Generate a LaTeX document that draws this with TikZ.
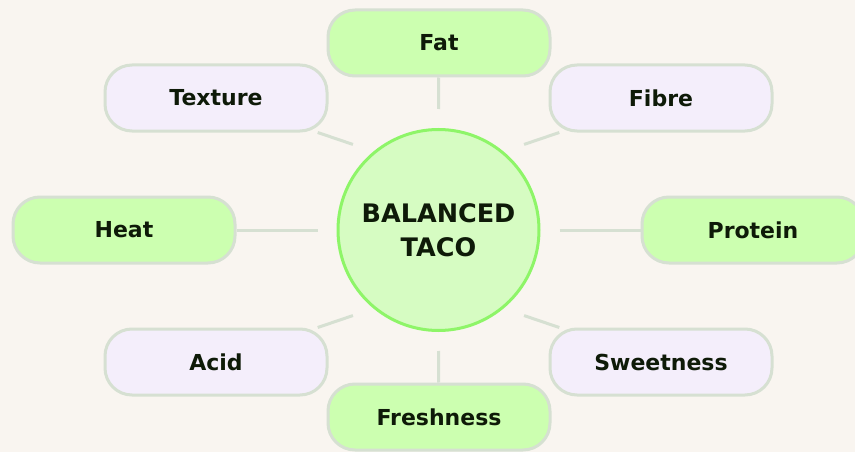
\documentclass[tikz,border=0pt]{standalone}
\usepackage{fontspec}
\setmainfont{DejaVu Sans}
\usetikzlibrary{calc}
\definecolor{bgc}{HTML}{F9F5F0}
\definecolor{greenfill}{HTML}{CCFFB0}
\definecolor{lavfill}{HTML}{F4EEFB}
\definecolor{edgec}{HTML}{D6E0D2}
\definecolor{hubfill}{HTML}{D6FCC2}
\definecolor{hubline}{HTML}{8EF568}
\definecolor{txt}{HTML}{0E1A08}
\begin{document}
\begin{tikzpicture}[x=1pt,y=-1pt,
  leaf/.style={draw=edgec, line width=3pt, rounded corners=27pt, minimum width=222pt, minimum height=66pt,
    text=txt, font=\fontsize{22}{26}\selectfont\bfseries, inner sep=0pt},
  gleaf/.style={leaf, fill=greenfill},
  lleaf/.style={leaf, fill=lavfill},
  hub/.style={circle, draw=hubline, fill=hubfill, line width=3pt, minimum size=201pt, inner sep=0pt,
    text=txt, align=center, font=\fontsize{25.5}{34}\selectfont\bfseries},
  conn/.style={draw=edgec, line width=3pt}]
\fill[bgc] (0,0) rectangle (855,452);
\useasboundingbox (0,0) rectangle (855,452);
\begin{scope}
\clip (0,0) rectangle (855,452);
\node[hub] (hub) at (438.5,230) {BALANCED\\TACO};
\node[gleaf] (fat) at (439,43) {Fat};
\node[lleaf] (texture) at (216,98) {Texture};
\node[lleaf] (fibre) at (661,98) {Fibre};
\node[gleaf] (heat) at (124,230) {Heat};
\node[gleaf] (protein) at (753,230) {Protein};
\node[lleaf] (acid) at (216,362) {Acid};
\node[lleaf] (sweet) at (661,362) {Sweetness};
\node[gleaf] (fresh) at (439,417) {Freshness};
\foreach \a/\n in {90/fat,135/texture,45/fibre,180/heat,0/protein,225/acid,315/sweet,270/fresh}{
  \coordinate (p\n) at ($(hub.center)+(\a:121pt)$);
}
\foreach \n in {fat,texture,fibre,heat,protein,acid,sweet,fresh}{
  \draw[conn] (p\n) -- (\n);
}
\end{scope}
\end{tikzpicture}
\end{document}
